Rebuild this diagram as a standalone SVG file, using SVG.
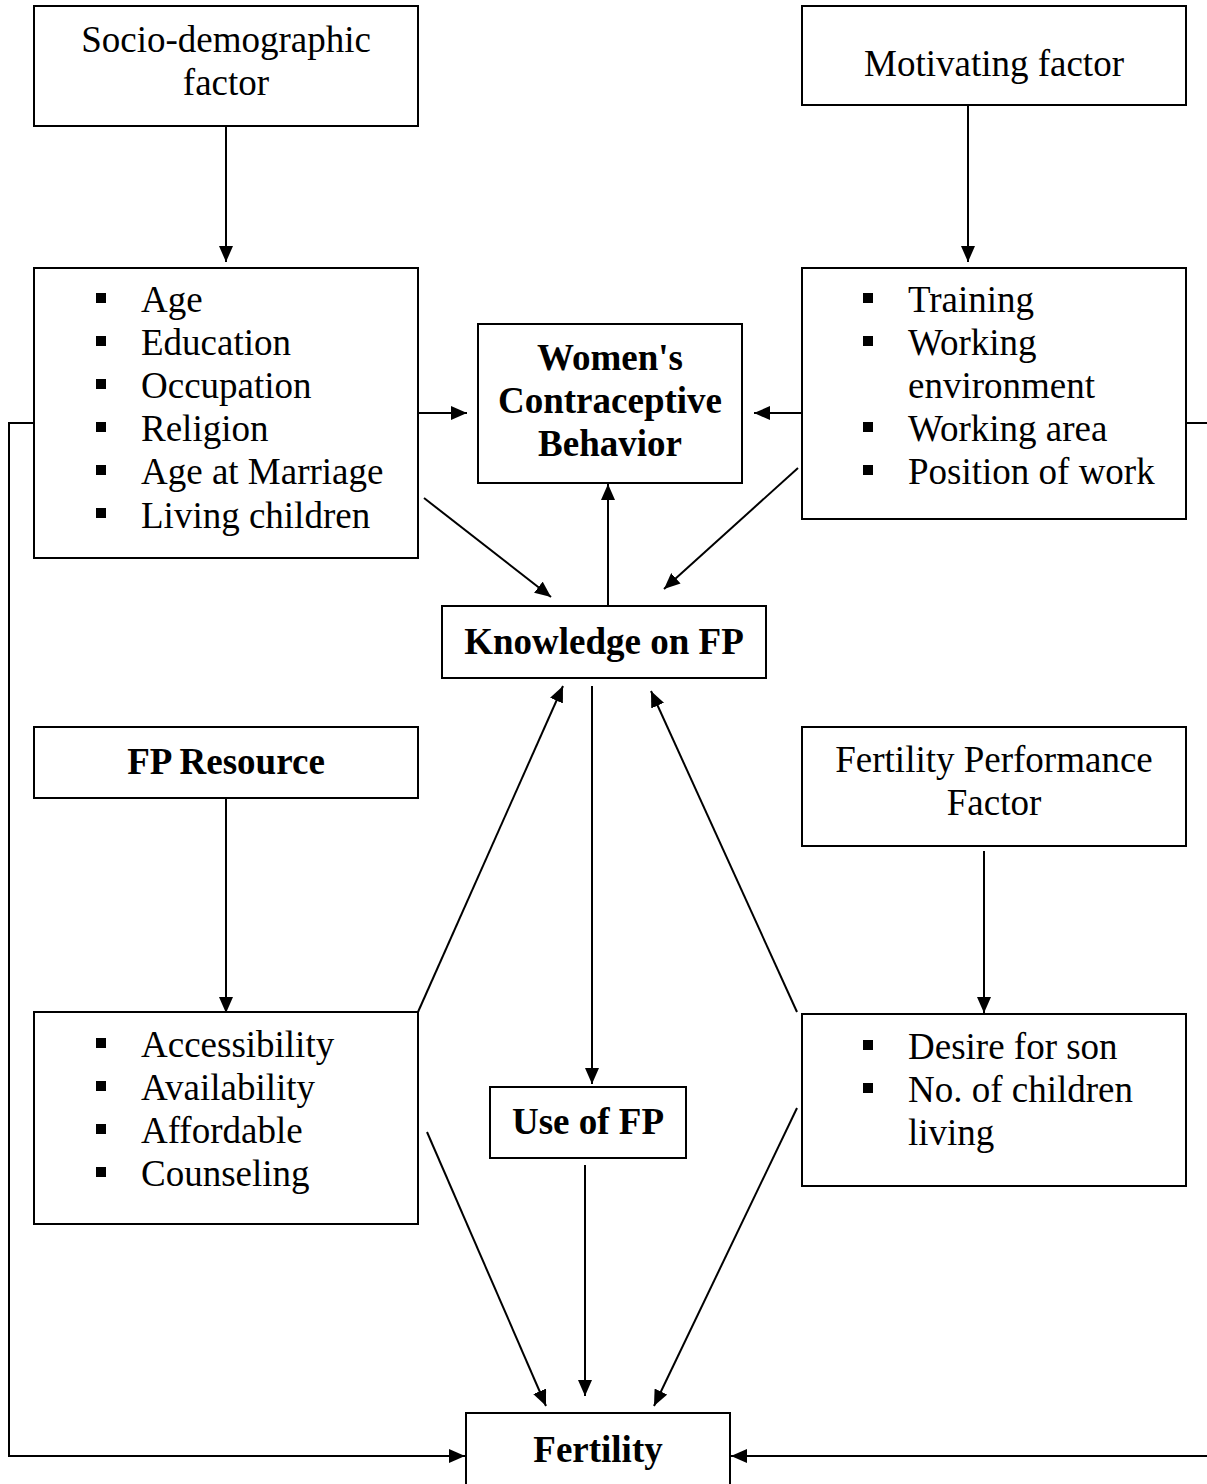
<svg xmlns="http://www.w3.org/2000/svg" width="1207" height="1484" viewBox="0 0 1207 1484">
<style>
.box{fill:#fff;stroke:#000;stroke-width:2}
.t{font-family:"Liberation Serif","Times New Roman",serif;font-size:37px;fill:#000}
.c{text-anchor:middle}
.b{font-weight:bold}
.ln{fill:none;stroke:#000;stroke-width:2}
.bul{fill:#000}
</style>
<defs>
<marker id="ah" viewBox="0 0 16 14" refX="16" refY="7" markerWidth="16" markerHeight="14" markerUnits="userSpaceOnUse" orient="auto">
<path d="M0,0 L16,7 L0,14 Z" fill="#000"/>
</marker>
</defs>
<rect width="1207" height="1484" fill="#fff"/>
<g id="connectors">
<line class="ln" x1="226" y1="126" x2="226" y2="262" marker-end="url(#ah)"/>
<line class="ln" x1="968" y1="105" x2="968" y2="262" marker-end="url(#ah)"/>
<line class="ln" x1="418" y1="413" x2="467" y2="413" marker-end="url(#ah)"/>
<line class="ln" x1="802" y1="413" x2="754" y2="413" marker-end="url(#ah)"/>
<line class="ln" x1="424" y1="498" x2="551" y2="597" marker-end="url(#ah)"/>
<line class="ln" x1="798" y1="468" x2="664" y2="589" marker-end="url(#ah)"/>
<line class="ln" x1="608" y1="606" x2="608" y2="484" marker-end="url(#ah)"/>
<line class="ln" x1="592" y1="686" x2="592" y2="1084" marker-end="url(#ah)"/>
<line class="ln" x1="418" y1="1012" x2="563" y2="686" marker-end="url(#ah)"/>
<line class="ln" x1="797" y1="1012" x2="651" y2="691" marker-end="url(#ah)"/>
<line class="ln" x1="226" y1="798" x2="226" y2="1013" marker-end="url(#ah)"/>
<line class="ln" x1="984" y1="851" x2="984" y2="1013" marker-end="url(#ah)"/>
<line class="ln" x1="427" y1="1132" x2="546" y2="1406" marker-end="url(#ah)"/>
<line class="ln" x1="585" y1="1165" x2="585" y2="1396" marker-end="url(#ah)"/>
<line class="ln" x1="797" y1="1108" x2="654" y2="1406" marker-end="url(#ah)"/>
<polyline class="ln" points="34,423 9,423 9,1456 465,1456" marker-end="url(#ah)"/>
<line class="ln" x1="1186" y1="423" x2="1207" y2="423"/>
<line class="ln" x1="1207" y1="1456" x2="731" y2="1456" marker-end="url(#ah)"/>
</g>
<g id="socio">
<rect class="box" x="34" y="6" width="384" height="120"/>
<text class="t c" x="226" y="52">Socio-demographic</text>
<text class="t c" x="226" y="95">factor</text>
</g>
<g id="motivating">
<rect class="box" x="802" y="6" width="384" height="99"/>
<text class="t c" x="994" y="76">Motivating factor</text>
</g>
<g id="socio-list">
<rect class="box" x="34" y="268" width="384" height="290"/>
<rect class="bul" x="96" y="293" width="10" height="10"/>
<rect class="bul" x="96" y="336" width="10" height="10"/>
<rect class="bul" x="96" y="379" width="10" height="10"/>
<rect class="bul" x="96" y="422" width="10" height="10"/>
<rect class="bul" x="96" y="465" width="10" height="10"/>
<rect class="bul" x="96" y="508" width="10" height="10"/>
<text class="t" x="141" y="312">Age</text>
<text class="t" x="141" y="355">Education</text>
<text class="t" x="141" y="398">Occupation</text>
<text class="t" x="141" y="441">Religion</text>
<text class="t" x="141" y="484">Age at Marriage</text>
<text class="t" x="141" y="528">Living children</text>
</g>
<g id="motivating-list">
<rect class="box" x="802" y="268" width="384" height="251"/>
<rect class="bul" x="863" y="293" width="10" height="10"/>
<rect class="bul" x="863" y="336" width="10" height="10"/>
<rect class="bul" x="863" y="422" width="10" height="10"/>
<rect class="bul" x="863" y="465" width="10" height="10"/>
<text class="t" x="908" y="312">Training</text>
<text class="t" x="908" y="355">Working</text>
<text class="t" x="908" y="398">environment</text>
<text class="t" x="908" y="441">Working area</text>
<text class="t" x="908" y="484">Position of work</text>
</g>
<g id="womens">
<rect class="box" x="478" y="324" width="264" height="159"/>
<text class="t c b" x="610" y="370">Women's</text>
<text class="t c b" x="610" y="413">Contraceptive</text>
<text class="t c b" x="610" y="456">Behavior</text>
</g>
<g id="knowledge">
<rect class="box" x="442" y="606" width="324" height="72"/>
<text class="t c b" x="604" y="654">Knowledge on FP</text>
</g>
<g id="fp-resource">
<rect class="box" x="34" y="727" width="384" height="71"/>
<text class="t c b" x="226" y="774">FP Resource</text>
</g>
<g id="fertility-performance">
<rect class="box" x="802" y="727" width="384" height="119"/>
<text class="t c" x="994" y="772">Fertility Performance</text>
<text class="t c" x="994" y="815">Factor</text>
</g>
<g id="resource-list">
<rect class="box" x="34" y="1012" width="384" height="212"/>
<rect class="bul" x="96" y="1038" width="10" height="10"/>
<rect class="bul" x="96" y="1081" width="10" height="10"/>
<rect class="bul" x="96" y="1124" width="10" height="10"/>
<rect class="bul" x="96" y="1167" width="10" height="10"/>
<text class="t" x="141" y="1057">Accessibility</text>
<text class="t" x="141" y="1100">Availability</text>
<text class="t" x="141" y="1143">Affordable</text>
<text class="t" x="141" y="1186">Counseling</text>
</g>
<g id="performance-list">
<rect class="box" x="802" y="1014" width="384" height="172"/>
<rect class="bul" x="863" y="1040" width="10" height="10"/>
<rect class="bul" x="863" y="1083" width="10" height="10"/>
<text class="t" x="908" y="1059">Desire for son</text>
<text class="t" x="908" y="1102">No. of children</text>
<text class="t" x="908" y="1145">living</text>
</g>
<g id="use-fp">
<rect class="box" x="490" y="1087" width="196" height="71"/>
<text class="t c b" x="588" y="1134">Use of FP</text>
</g>
<g id="fertility">
<rect class="box" x="466" y="1413" width="264" height="80"/>
<text class="t c b" x="598" y="1462">Fertility</text>
</g>
</svg>
